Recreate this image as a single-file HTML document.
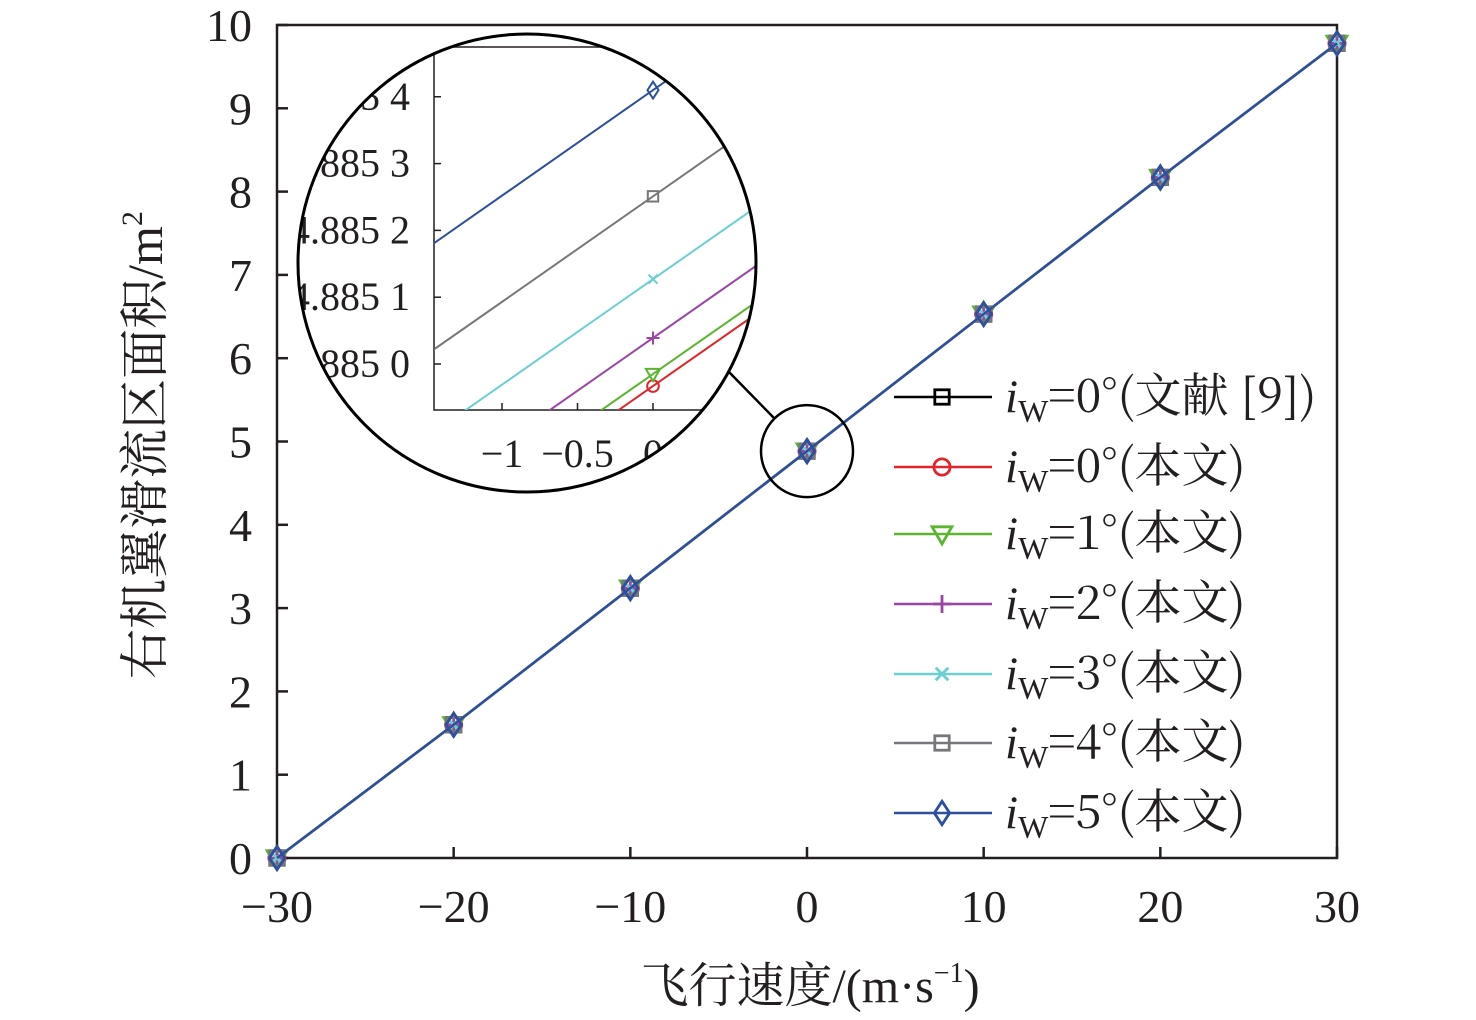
<!DOCTYPE html>
<html><head><meta charset="utf-8">
<style>
html,body{margin:0;padding:0;background:#fff;}
svg{display:block;}
text{font-family:"Liberation Serif","Times New Roman",serif;fill:#231f20;}
.cjk{font-family:"Noto Serif CJK SC","Liberation Serif",serif;}
</style></head>
<body>
<svg id="chart" width="1476" height="1020" viewBox="0 0 1476 1020" xmlns="http://www.w3.org/2000/svg">
<defs>
<clipPath id="circClip"><circle cx="527" cy="263" r="228"/></clipPath>
<clipPath id="insetClip"><rect x="434" y="47" width="400" height="363"/></clipPath>
</defs>
<g id="main"></g>
<g id="inset"></g>
<g id="legend"></g>
<text x="162" y="445" font-size="50" text-anchor="middle" transform="rotate(-90 162 445)"><tspan class="cjk">右机翼滑流区面积</tspan><tspan font-family="Liberation Serif">/m</tspan><tspan font-family="Liberation Serif" font-size="30" dy="-20">2</tspan></text>
<text x="810" y="1002" font-size="48" text-anchor="middle"><tspan class="cjk">飞行速度</tspan><tspan font-family="Liberation Serif">/(m·s</tspan><tspan font-family="Liberation Serif" font-size="28" dy="-20">−1</tspan><tspan font-family="Liberation Serif" dy="20">)</tspan></text>
</svg>
<script>
const xCats = [-30, -20, -10, 0, 10, 20, 30];
const seriesNames = ["0°(文献 [9])","0°(本文)","1°(本文)","2°(本文)","3°(本文)","4°(本文)","5°(本文)"];
const seriesColors = ["#000000","#e0262b","#5cb531","#9a46a6","#6ccfd0","#76777a","#2e4e9e"];
const seriesMarkers = ["square","circle","tri","plus","x","square","diamond"];
const mainValues = [0, 1.60, 3.24, 4.885, 6.53, 8.17, 9.78];
const xTicks = [-30, -20, -10, 0, 10, 20, 30];
const yTicks = [0,1,2,3,4,5,6,7,8,9,10];
const insetAtZero = [-0.3, -0.33, -0.15, 0.39, 1.27, 2.51, 4.10];
const insetSlope = [1.58, 1.58, 1.58, 1.58, 1.58, 1.58, 1.58];
const insetXTicks = [-1, -0.5, 0, 0.5];
const insetXTickLabels = ["−1", "−0.5", "0", "0.5"];
const insetYTicks = [0, 1, 2, 3, 4];
const insetYTickLabels = ["4.885 0","4.885 1","4.885 2","4.885 3","4.885 4"];

const NS = "http://www.w3.org/2000/svg";
function mk(tag, attrs, parent){const e=document.createElementNS(NS,tag);for(const k in attrs)e.setAttribute(k,attrs[k]);parent.appendChild(e);return e;}
const X = v => 277 + (v + 30) * (1060 / 60);
const Y = v => 858 - v * 83.3;
const IX = v => 653 + v * 151;
const IY = v => 364 - v * 66.8;

function marker(g, type, cx, cy, s, color, sw){
  let m;
  if(type==="square") m=mk("rect",{x:cx-s*0.8,y:cy-s*0.8,width:s*1.6,height:s*1.6,fill:"none",stroke:color,"stroke-width":sw},g);
  else if(type==="circle") m=mk("circle",{cx:cx,cy:cy,r:s*0.9,fill:"none",stroke:color,"stroke-width":sw},g);
  else if(type==="tri") m=mk("path",{d:`M${cx-s*1.1},${cy-s*0.8}L${cx+s*1.1},${cy-s*0.8}L${cx},${cy+s*1.1}Z`,fill:"none",stroke:color,"stroke-width":sw},g);
  else if(type==="plus") m=mk("path",{d:`M${cx-s},${cy}L${cx+s},${cy}M${cx},${cy-s}L${cx},${cy+s}`,fill:"none",stroke:color,"stroke-width":sw},g);
  else if(type==="x") m=mk("path",{d:`M${cx-s*0.7},${cy-s*0.7}L${cx+s*0.7},${cy+s*0.7}M${cx+s*0.7},${cy-s*0.7}L${cx-s*0.7},${cy+s*0.7}`,fill:"none",stroke:color,"stroke-width":sw},g);
  else m=mk("path",{d:`M${cx},${cy-s*1.3}L${cx+s*0.85},${cy}L${cx},${cy+s*1.3}L${cx-s*0.85},${cy}Z`,fill:"none",stroke:color,"stroke-width":sw},g);
  
  
  return m;
}

const main = document.getElementById("main");
const frame = mk("rect",{x:277,y:25,width:1060,height:833,fill:"none",stroke:"#231f20","stroke-width":2.5},main);


xTicks.forEach(t=>{
  const l=mk("line",{x1:X(t),x2:X(t),y1:858,y2:847,stroke:"#231f20","stroke-width":2.5},main);
  
  
  const tx=mk("text",{x:X(t),y:922,"font-size":46,"text-anchor":"middle","font-family":"Liberation Serif"},main);
  tx.textContent = t<0 ? "−"+Math.abs(t) : String(t);
  
  
});
yTicks.forEach(t=>{
  const l=mk("line",{x1:277,x2:288,y1:Y(t),y2:Y(t),stroke:"#231f20","stroke-width":2.5},main);
  
  
  const tx=mk("text",{x:252,y:Y(t)+16,"font-size":46,"text-anchor":"end","font-family":"Liberation Serif"},main);
  tx.textContent = String(t);
  
  
});
seriesNames.forEach((n,i)=>{
  const g=mk("g",{},main);
  
  
  const pts=xCats.map((x,j)=>X(x)+","+Y(mainValues[j])).join(" ");
  const pl=mk("polyline",{points:pts,fill:"none",stroke:seriesColors[i],"stroke-width":2.5},g);
  
  
  xCats.forEach((x,j)=>marker(g,seriesMarkers[i],X(x),Y(mainValues[j]),9,seriesColors[i],2.8));
});
const smallC=mk("circle",{cx:X(0),cy:Y(mainValues[3]),r:46,fill:"none",stroke:"#000","stroke-width":2.5},main);


const conn=mk("line",{x1:729,y1:372,x2:774,y2:418,stroke:"#000","stroke-width":2.5},main);



const inset=document.getElementById("inset");
const bg=mk("circle",{cx:527,cy:263,r:230,fill:"#fff"},inset);


const ic=mk("g",{"clip-path":"url(#circClip)"},inset);


const ax=mk("path",{d:"M434,47L434,410L900,410M434,47L900,47",fill:"none",stroke:"#231f20","stroke-width":1.5},ic);


insetXTicks.forEach((t,k)=>{
  const l=mk("line",{x1:IX(t),x2:IX(t),y1:410,y2:403,stroke:"#231f20","stroke-width":1.5},ic);
  
  
  const tx=mk("text",{x:IX(t),y:467,"font-size":40,"text-anchor":"middle","font-family":"Liberation Serif"},ic);
  tx.textContent=insetXTickLabels[k];
  
  
});
insetYTicks.forEach((t,k)=>{
  const l=mk("line",{x1:434,x2:441,y1:IY(t),y2:IY(t),stroke:"#231f20","stroke-width":1.5},ic);
  
  
  const tx=mk("text",{x:410,y:IY(t)+13,"font-size":40,"text-anchor":"end","font-family":"Liberation Serif"},ic);
  tx.textContent=insetYTickLabels[k];
  
  
});
const il=mk("g",{"clip-path":"url(#insetClip)"},ic);


seriesNames.forEach((n,i)=>{
  if(i===0) return;
  const x0=-3,x1=3;
  const l=mk("line",{x1:IX(x0),y1:IY(insetAtZero[i]+insetSlope[i]*x0),x2:IX(x1),y2:IY(insetAtZero[i]+insetSlope[i]*x1),stroke:seriesColors[i],"stroke-width":2},il);
  
  
});
seriesNames.forEach((n,i)=>{
  if(i===0) return;
  marker(il,seriesMarkers[i],IX(0),IY(insetAtZero[i]),6.5,seriesColors[i],2);
});
const bigC=mk("circle",{cx:527,cy:263,r:229,fill:"none",stroke:"#000","stroke-width":3},inset);



const leg=document.getElementById("legend");
const legY=[397,467,534,604,674,743,813];
seriesNames.forEach((n,i)=>{
  const g=mk("g",{},leg);
  
  
  const l=mk("line",{x1:894,x2:992,y1:legY[i],y2:legY[i],stroke:seriesColors[i],"stroke-width":2.5},g);
  
  
  marker(g,seriesMarkers[i],942,legY[i],9,seriesColors[i],2.8);
  const t=mk("text",{x:1005,y:legY[i]+15,"font-size":47},g);
  
  
  const a=mk("tspan",{"font-style":"italic","font-family":"Liberation Serif"},t); a.textContent="i";
  const b=mk("tspan",{"font-size":32,dy:10,"font-family":"Liberation Serif"},t); b.textContent="W";
  const c=mk("tspan",{dy:-10,"class":"cjk"},t); c.textContent="="+n;
});
</script>
</body></html>
